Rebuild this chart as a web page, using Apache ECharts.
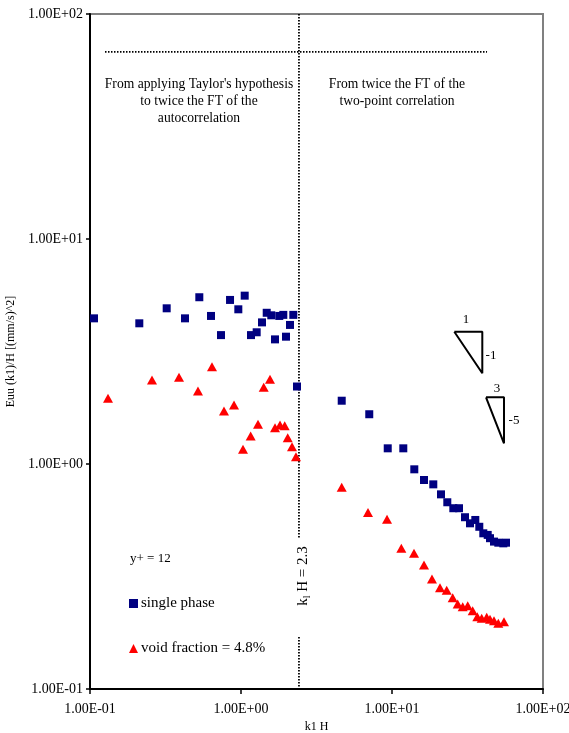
<!DOCTYPE html>
<html><head><meta charset="utf-8">
<script src="https://cdn.jsdelivr.net/npm/echarts@6/dist/echarts.min.js"></script>
<style>html,body{margin:0;padding:0;background:#fff}#c{width:569px;height:733px}</style>
</head><body><div id="c"></div>
<script>
// ---- data (k1 H, Euu(k1)/H) ----
const singleX = [0.1063,0.2121,0.322,0.4257,0.5296,0.633,0.737,0.846,0.960,1.058,1.165,1.27,1.378,1.480,1.587,1.680,1.793,1.906,1.986,2.111,2.220,2.349,
  4.645,7.07,9.37,11.88,14.05,16.29,18.77,21.11,23.24,25.47,27.78,30.44,32.86,35.62,37.86,40.24,43.03,44.57,47.37,50.58,54.59,56.89];
const singleY = [4.44,4.22,4.92,4.44,5.51,4.55,3.74,5.36,4.87,5.60,3.74,3.85,4.26,4.70,4.58,3.58,4.55,4.60,3.68,4.15,4.60,2.21,
  1.911,1.664,1.174,1.174,0.947,0.849,0.812,0.733,0.676,0.636,0.636,0.580,0.545,0.564,0.526,0.492,0.484,0.468,0.452,0.447,0.444,0.447];
const voidX = [0.1316,0.2574,0.3886,0.519,0.6426,0.7716,0.899,1.031,1.159,1.296,1.414,1.556,1.680,1.813,1.947,2.039,2.177,2.313,
  4.645,6.935,9.27,11.53,13.99,16.29,18.40,20.79,23.03,25.23,27.23,29.39,31.72,34.22,36.72,39.26,42.39,44.57,47.37,50.58,55.17];
const voidY = [1.959,2.362,2.428,2.111,2.706,1.720,1.829,1.162,1.332,1.501,2.193,2.379,1.450,1.491,1.480,1.309,1.194,1.078,
  0.788,0.608,0.568,0.422,0.401,0.356,0.308,0.282,0.275,0.2545,0.2386,0.232,0.2345,0.2228,0.2096,0.2062,0.2084,0.204,0.2012,0.1959,0.1991];
const seriesNames = ['single phase','void fraction = 4.8%'];
const tickLabels = ['1.00E-01','1.00E+00','1.00E+01','1.00E+02'];
const tickValues = [0.1,1,10,100];
// annotation guide lines
const cutoffX = 2.42;
const cutoffUpper = [[cutoffX,100],[cutoffX,0.469]];
const cutoffLower = [[cutoffX,0.1703],[cutoffX,0.1]];
const regionLine = [[0.1257,67.8],[42.6,67.8]];
const slope1 = [[25.86,3.873],[39.63,3.873],[39.63,2.530],[25.86,3.873]];
const slope2 = [[41.94,1.979],[55.17,1.979],[55.17,1.236],[41.94,1.979]];

const FONT = '"Liberation Serif","Times New Roman",serif';
function fmt(v){
  for(let i=0;i<tickValues.length;i++){ if(Math.abs(Math.log10(v)-Math.log10(tickValues[i]))<1e-6) return tickLabels[i]; }
  return '';
}
const zip = (a,b)=>a.map((x,i)=>[x,b[i]]);
const guide = (name,data,style)=>({type:'line',name:name,data:data,symbol:'none',silent:true,z:1,
  lineStyle:Object.assign({color:'#000',width:1.8,type:[1.5,1.5]},style||{}),animation:false});

const chart = echarts.init(document.getElementById('c'),null,{renderer:'canvas'});
chart.setOption({
  backgroundColor:'#fff',
  animation:false,
  textStyle:{fontFamily:FONT},
  grid:{left:90,top:14,right:26,bottom:44,containLabel:false,outerBoundsMode:'none',
    show:true,borderColor:'#808080',borderWidth:2,backgroundColor:'transparent'},
  xAxis:{type:'log',logBase:10,min:0.1,max:100,
    name:'k1 H',nameLocation:'middle',nameGap:31,nameTextStyle:{fontFamily:FONT,fontSize:12,color:'#000'},
    axisLine:{lineStyle:{color:'#000',width:2}},
    axisTick:{inside:false,length:5,lineStyle:{color:'#000',width:1.5}},
    minorTick:{show:false},splitLine:{show:false},
    axisLabel:{formatter:fmt,fontFamily:FONT,fontSize:14,color:'#000',margin:13,showMinLabel:true,showMaxLabel:true,hideOverlap:false}},
  yAxis:{type:'log',logBase:10,min:0.1,max:100,
    name:'Euu (k1)/H [(mm/s)^2]',nameLocation:'middle',nameGap:68,nameTextStyle:{fontFamily:FONT,fontSize:12,color:'#000'},
    axisLine:{lineStyle:{color:'#000',width:2}},
    axisTick:{inside:false,length:4,lineStyle:{color:'#000',width:1.5}},
    minorTick:{show:false},splitLine:{show:false},
    axisLabel:{formatter:fmt,fontFamily:FONT,fontSize:14,color:'#000',margin:7}},
  legend:{data:[{name:seriesNames[0],icon:'rect'},{name:seriesNames[1],icon:'triangle'}],
    orient:'vertical',left:124,top:591,itemWidth:9,itemHeight:9,itemGap:30,
    textStyle:{fontFamily:FONT,fontSize:15,color:'#000',padding:[0,0,0,-2]}},
  graphic:[
    {type:'text',left:130,top:552,style:{text:'y+ = 12',font:'13px '+FONT,fill:'#000'}},
    {type:'text',x:199,y:76,style:{text:"From applying Taylor's hypothesis\nto twice the FT of the\nautocorrelation",font:'13.6px '+FONT,fill:'#000',textAlign:'center',lineHeight:17}},
    {type:'text',x:397,y:76,style:{text:'From twice the FT of the\ntwo-point correlation',font:'13.6px '+FONT,fill:'#000',textAlign:'center',lineHeight:17}},
    {type:'text',x:303,y:576,rotation:Math.PI/2,style:{
      text:'{n|k}{s|l}{n| H = 2.3}',textAlign:'center',textVerticalAlign:'middle',
      rich:{n:{font:'15px '+FONT,fill:'#000'},s:{font:'10px '+FONT,fill:'#000',padding:[8,0,0,0]}}}},
    {type:'text',x:466,y:320,style:{text:'1',font:'13px '+FONT,fill:'#000',textAlign:'center',textVerticalAlign:'middle'}},
    {type:'text',x:491,y:356,style:{text:'-1',font:'13px '+FONT,fill:'#000',textAlign:'center',textVerticalAlign:'middle'}},
    {type:'text',x:497,y:389,style:{text:'3',font:'13px '+FONT,fill:'#000',textAlign:'center',textVerticalAlign:'middle'}},
    {type:'text',x:514,y:421,style:{text:'-5',font:'13px '+FONT,fill:'#000',textAlign:'center',textVerticalAlign:'middle'}}
  ],
  series:[
    guide('cutoffU',cutoffUpper),
    guide('cutoffL',cutoffLower),
    guide('region',regionLine),
    guide('slope1',slope1,{type:'solid',width:2}),
    guide('slope2',slope2,{type:'solid',width:2}),
    {type:'scatter',name:seriesNames[0],data:zip(singleX,singleY),symbol:'rect',symbolSize:8,
      itemStyle:{color:'#000080',opacity:1},z:3},
    {type:'scatter',name:seriesNames[1],data:zip(voidX,voidY),symbol:'triangle',symbolSize:[10,9],
      itemStyle:{color:'#ff0000',opacity:1},z:3}
  ]
});
</script></body></html>
